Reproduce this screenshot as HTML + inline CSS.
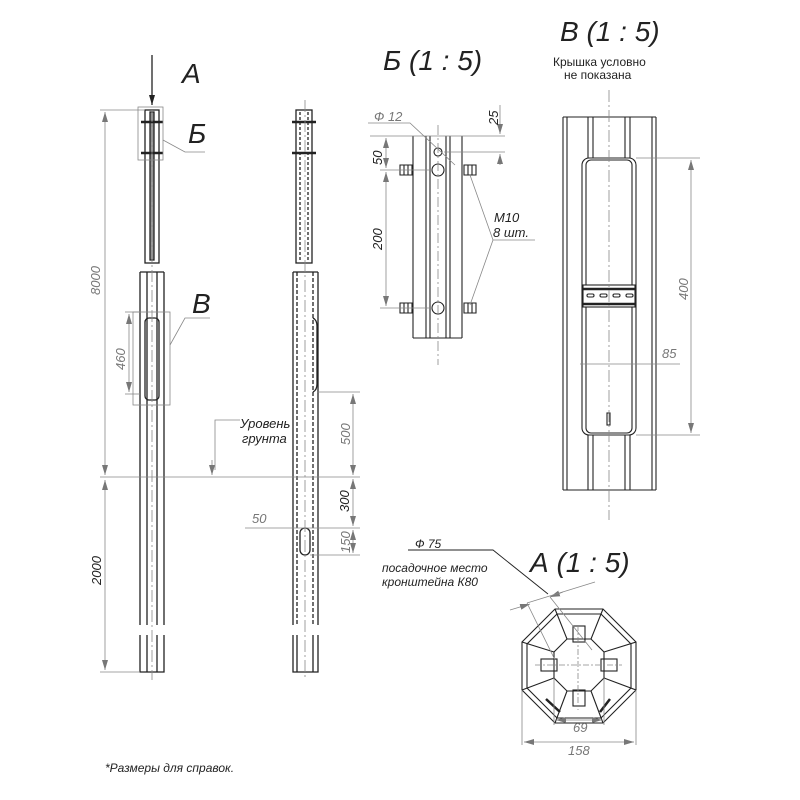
<!DOCTYPE html>
<html><head><meta charset="utf-8"><style>
html,body{margin:0;padding:0;background:#fff}
svg{display:block}
text{font-family:"Liberation Sans","DejaVu Sans",sans-serif;font-style:italic}
</style></head><body>
<svg width="800" height="800" viewBox="0 0 800 800" xmlns="http://www.w3.org/2000/svg">
<defs>
<marker id="ar" viewBox="0 0 10 6" refX="10" refY="3" markerWidth="10" markerHeight="6" orient="auto-start-reverse" markerUnits="userSpaceOnUse"><path d="M0,0 L10,3 L0,6z" fill="#777"/></marker>
<marker id="ak" viewBox="0 0 10 6" refX="10" refY="3" markerWidth="10" markerHeight="6" orient="auto-start-reverse" markerUnits="userSpaceOnUse"><path d="M0,0 L10,3 L0,6z" fill="#222"/></marker>
</defs>
<g fill="none" stroke="#222" stroke-width="1.3">
<line x1="152" y1="55" x2="152" y2="105" marker-end="url(#ak)"/>
<rect x="145" y="110" width="14" height="153"/>
<rect x="150" y="112" width="4" height="148" fill="#999"/>
<line x1="141" y1="122" x2="163" y2="122" stroke-width="2.5"/>
<line x1="141" y1="153" x2="163" y2="153" stroke-width="2.5"/>
<path d="M140,272 V625 M164,272 V625 M147,272 V625 M157,272 V625 M140,272 H164"/>
<path d="M140,635 V672 H164 V635 M147,635 V672 M157,635 V672"/>
<rect x="145" y="318" width="14" height="82" rx="4"/>
<rect x="296" y="110" width="16" height="153"/>
<line x1="300" y1="112" x2="300" y2="260" stroke-dasharray="3,2"/>
<line x1="308" y1="112" x2="308" y2="260" stroke-dasharray="3,2"/>
<line x1="292" y1="122" x2="316" y2="122" stroke-width="2.5"/>
<line x1="292" y1="153" x2="316" y2="153" stroke-width="2.5"/>
<path d="M293,272 V625 M318,272 V625 M293,272 H318"/>
<path d="M297,272 V625 M313,272 V625" stroke-dasharray="4,2"/>
<path d="M293,635 V672 H318 V635 M297,635 V672 M313,635 V672"/>
<path d="M313,318 Q317,320 317,326 V384 Q317,390 313,392" />
<rect x="300" y="528" width="10" height="27" rx="5"/>
</g>
<g fill="none" stroke="#888" stroke-width="0.8">
<path d="M152,110 V680 M305,100 V680" stroke-dasharray="12,3,2,3"/>
<rect x="138" y="107" width="25" height="53"/>
<rect x="133" y="312" width="37" height="93"/>
<path d="M163,140 L185,152 H205 M170,345 L185,318 H210"/>
<line x1="100" y1="110" x2="145" y2="110"/>
<line x1="105" y1="112" x2="105" y2="475" marker-start="url(#ar)" marker-end="url(#ar)"/>
<line x1="100" y1="477" x2="360" y2="477"/>
<line x1="105" y1="480" x2="105" y2="670" marker-start="url(#ar)" marker-end="url(#ar)"/>
<line x1="100" y1="672" x2="140" y2="672"/>
<line x1="125" y1="312" x2="140" y2="312"/><line x1="125" y1="394" x2="140" y2="394"/>
<line x1="129" y1="314" x2="129" y2="392" marker-start="url(#ar)" marker-end="url(#ar)"/>
<path d="M240,420 H215 V470" /><line x1="212" y1="460" x2="212" y2="475" marker-end="url(#ar)"/>
<line x1="317" y1="392" x2="360" y2="392"/>
<line x1="353" y1="394" x2="353" y2="475" marker-start="url(#ar)" marker-end="url(#ar)"/>
<line x1="353" y1="479" x2="353" y2="526" marker-start="url(#ar)" marker-end="url(#ar)"/>
<line x1="245" y1="528" x2="360" y2="528"/><line x1="310" y1="555" x2="360" y2="555"/>
<line x1="353" y1="530" x2="353" y2="553" marker-start="url(#ar)" marker-end="url(#ar)"/>
</g>
<g fill="#777" font-size="13">
<text transform="translate(100,295) rotate(-90)">8000</text>
<text transform="translate(125,370) rotate(-90)">460</text>
<text transform="translate(350,445) rotate(-90)">500</text>
<text transform="translate(252,523)">50</text>
<text transform="translate(350,553) rotate(-90)">150</text>
</g>
<g fill="#222" font-size="13">
<text transform="translate(101,585) rotate(-90)">2000</text>
<text transform="translate(349,512) rotate(-90)">300</text>
<text x="240" y="428">Уровень</text><text x="242" y="443">грунта</text>
</g>
<g fill="#222" font-size="28">
<text x="182" y="83">А</text><text x="188" y="143">Б</text><text x="192" y="313">В</text>
<text x="383" y="70">Б (1 : 5)</text>
<text x="560" y="41">В (1 : 5)</text>
<text x="530" y="572">А (1 : 5)</text>
</g>
<text x="553" y="66" font-size="12" fill="#222" style="font-style:normal">Крышка условно</text>
<text x="564" y="79" font-size="12" fill="#222" style="font-style:normal">не показана</text>
<g fill="none" stroke="#222" stroke-width="1.1">
<path d="M413,136 V338 M462,136 V338 M413,338 H462 M426,136 V338 M430,136 V338 M446,136 V338 M450,136 V338"/>
<circle cx="438" cy="152" r="4"/><circle cx="438" cy="170" r="6"/><circle cx="438" cy="308" r="6"/>
<path d="M400,165 H412 V175 H400Z M404,165 V175 M408,165 V175"/>
<path d="M464,165 H476 V175 H464Z M468,165 V175 M472,165 V175"/>
<path d="M400,303 H412 V313 H400Z M404,303 V313 M408,303 V313"/>
<path d="M464,303 H476 V313 H464Z M468,303 V313 M472,303 V313"/>
</g>
<g fill="none" stroke="#888" stroke-width="0.8">
<line x1="438" y1="125" x2="438" y2="365" stroke-dasharray="10,3,2,3"/>
<path d="M370,136 H505 M444,152 H505 M380,170 H432 M380,308 H432"/>
<line x1="386" y1="138" x2="386" y2="168" marker-start="url(#ar)" marker-end="url(#ar)"/>
<line x1="386" y1="172" x2="386" y2="306" marker-start="url(#ar)" marker-end="url(#ar)"/>
<line x1="500" y1="105" x2="500" y2="134" marker-end="url(#ar)"/>
<line x1="500" y1="165" x2="500" y2="154" marker-end="url(#ar)"/>
<path d="M368,123 H410 L455,165"/>
<path d="M535,240 H493 L470,175 M493,240 L470,305"/>
</g>
<g font-size="13"><text fill="#777" x="374" y="121">Ф 12</text><text fill="#222" transform="translate(498,125) rotate(-90)">25</text>
<text fill="#222" transform="translate(382,165) rotate(-90)">50</text><text fill="#222" transform="translate(382,250) rotate(-90)">200</text>
<text fill="#222" x="494" y="222">M10</text><text fill="#222" x="493" y="237">8 шт.</text></g>
<g fill="none" stroke="#222" stroke-width="1.1">
<path d="M563,117 H656 M563,490 H656 M563,117 V490 M567,117 V490 M656,117 V490 M652,117 V490 M588,117 V490 M593,117 V490 M625,117 V490 M630,117 V490"/>
<rect x="582" y="158" width="54" height="277" rx="7" fill="#fff"/>
<rect x="586" y="160" width="46" height="273" rx="5"/>
<rect x="583" y="285" width="52" height="22" fill="#fff"/>
<line x1="583" y1="289" x2="635" y2="289" stroke-width="2.5"/><line x1="583" y1="304" x2="635" y2="304" stroke-width="2.5"/>
<rect x="587" y="294" width="7" height="3" rx="1.5"/><rect x="600" y="294" width="7" height="3" rx="1.5"/><rect x="613" y="294" width="7" height="3" rx="1.5"/><rect x="626" y="294" width="7" height="3" rx="1.5"/>
<rect x="607" y="413" width="3" height="12"/>
</g>
<g fill="none" stroke="#888" stroke-width="0.8">
<line x1="609" y1="90" x2="609" y2="520" stroke-dasharray="12,3,2,3"/>
<path d="M636,158 H700 M636,435 H700 M580,364 H680"/>
<line x1="691" y1="160" x2="691" y2="433" marker-start="url(#ar)" marker-end="url(#ar)"/>
</g>
<g fill="#777" font-size="13"><text transform="translate(688,300) rotate(-90)">400</text><text x="662" y="358">85</text></g>
<g fill="none" stroke="#222" stroke-width="1.1">
<polygon points="555,609 603,609 636,642 636,690 603,723 555,723 522,690 522,642"/>
<polygon points="557,614 601,614 631,644 631,688 601,718 557,718 527,688 527,644"/>
<polygon points="567,639 591,639 604,652 604,678 591,691 567,691 554,678 554,652"/>
<path d="M555,609 L567,639 M603,609 L591,639 M636,642 L604,652 M636,690 L604,678 M603,723 L591,691 M555,723 L567,691 M522,690 L554,678 M522,642 L554,652"/>
<rect x="573" y="626" width="12" height="16"/><rect x="573" y="690" width="12" height="16"/>
<rect x="541" y="659" width="16" height="12"/><rect x="601" y="659" width="16" height="12"/>
<path d="M546,699 L560,712 M610,699 L600,712" stroke-width="2.5"/>
</g>
<g fill="none" stroke="#888" stroke-width="0.8">
<path d="M578,625 V710 M535,665 H622" stroke-dasharray="6,2,2,2"/>
<path d="M522,690 V745 M636,690 V745 M554,678 V725 M604,678 V725"/>
<line x1="556" y1="720" x2="602" y2="720" marker-start="url(#ar)" marker-end="url(#ar)"/>
<line x1="524" y1="742" x2="634" y2="742" marker-start="url(#ar)" marker-end="url(#ar)"/>
<line x1="510" y1="610" x2="530" y2="604" marker-end="url(#ar)"/>
<line x1="563" y1="592" x2="550" y2="597" marker-end="url(#ar)"/>
<line x1="527" y1="603" x2="595" y2="582"/>
<path d="M527,603 L555,660 M550,597 L592,650"/>
</g>
<g fill="none" stroke="#222" stroke-width="0.9"><path d="M408,550 H493 L548,594"/></g>
<g fill="#777" font-size="13"><text x="573" y="732">69</text><text x="568" y="755">158</text></g>
<g fill="#222" font-size="12"><text x="415" y="548">Ф 75</text><text x="382" y="572">посадочное место</text><text x="382" y="586">кронштейна К80</text>
<text x="105" y="772">*Размеры для справок.</text></g>
</svg>
</body></html>
